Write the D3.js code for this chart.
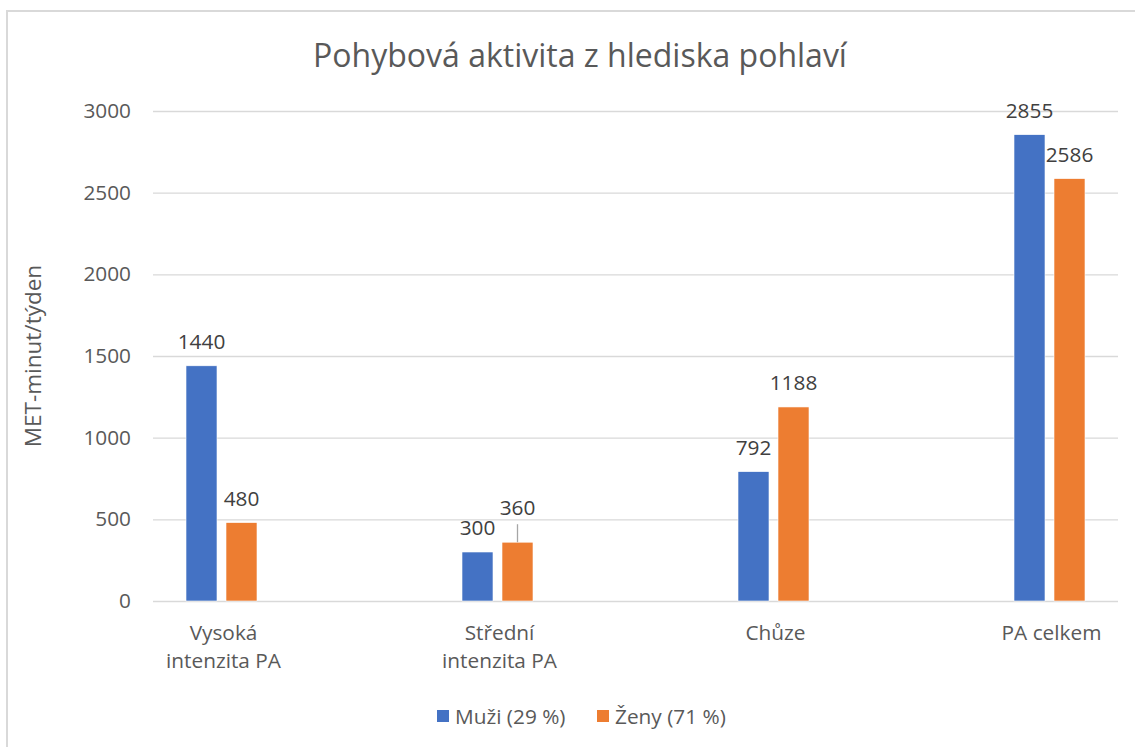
<!DOCTYPE html>
<html>
<head>
<meta charset="utf-8">
<script src="https://cdn.jsdelivr.net/npm/d3@7"></script>
<style>
  html, body { margin: 0; padding: 0; background: #fff; }
  svg { display: block; font-family: "Open Sans", sans-serif; }
</style>
</head>
<body>
<svg id="chart" width="1135" height="747"></svg>
<script>
const title = "Pohybová aktivita z hlediska pohlaví";
const yAxisTitle = "MET-minut/týden";
const categories = [["Vysoká", "intenzita PA"], ["Střední", "intenzita PA"], ["Chůze"], ["PA celkem"]];
const seriesNames = ["Muži (29 %)", "Ženy (71 %)"];
const muzi = [1440, 300, 792, 2855];
const zeny = [480, 360, 1188, 2586];
const yTicks = [0, 500, 1000, 1500, 2000, 2500, 3000];
const colors = ["#4472C4", "#ED7D31"];

const svg = d3.select("#chart");
const textColor = "#595959";
const fs = 20.8;

// outer chart border
svg.append("rect").attr("x", 7).attr("y", 11).attr("width", 1140).attr("height", 760)
  .attr("fill", "#fff").attr("stroke", "#D9D9D9").attr("stroke-width", 2);

const plotLeft = 153, plotRight = 1118, plotTop = 111, plotBottom = 601;
const catKeys = categories.map(c => c.join(" "));
const x0 = d3.scaleBand().domain(catKeys).range([83.5, 1187.5]);
const x1 = d3.scaleBand().domain(seriesNames).range([-35.5, 35.5]).paddingInner(0.225);
const y = d3.scaleLinear().domain([0, 3000]).range([plotBottom, plotTop]);

// title
svg.append("text").attr("x", 580).attr("y", 67).attr("text-anchor", "middle")
  .attr("font-size", 32).attr("fill", textColor).text(title);

// y axis with gridlines
const yAxis = d3.axisLeft(y).tickValues(yTicks).tickSize(-(plotRight - plotLeft)).tickPadding(22).tickFormat(d3.format("d"));
const gy = svg.append("g").attr("transform", `translate(${plotLeft},0)`).call(yAxis);
gy.select(".domain").remove();
gy.selectAll(".tick line").attr("stroke", "#D9D9D9").attr("stroke-width", 1.3);
gy.selectAll(".tick text").attr("font-size", fs).attr("fill", textColor)
  .attr("font-family", "'Open Sans', sans-serif");

// y axis title
svg.append("text").attr("transform", `translate(41,356) rotate(-90)`).attr("text-anchor", "middle")
  .attr("font-size", 22.5).attr("fill", textColor).text(yAxisTitle);

// bars
const data = catKeys.map((k, i) => ({ key: k, values: [muzi[i], zeny[i]] }));
const groups = svg.append("g").selectAll("g").data(data).join("g")
  .attr("transform", d => `translate(${x0(d.key) + x0.bandwidth() / 2},0)`);

groups.selectAll("rect").data(d => d.values.map((v, j) => ({ v, j, s: seriesNames[j] }))).join("rect")
  .attr("x", d => x1(d.s)).attr("width", x1.bandwidth())
  .attr("y", d => y(d.v)).attr("height", d => y(0) - y(d.v))
  .attr("fill", d => colors[d.j]).attr("stroke", "#fff").attr("stroke-width", 0.6);

// data labels (Ženy in "Střední" lifted with a leader line)
groups.each(function(d, i) {
  const g = d3.select(this);
  d.values.forEach((v, j) => {
    const cx = x1(seriesNames[j]) + x1.bandwidth() / 2;
    let ly = y(v) - 17;
    if (i === 1 && j === 1) {
      ly = y(v) - 27;
      g.append("line").attr("x1", cx).attr("x2", cx).attr("y1", ly + 9).attr("y2", y(v))
        .attr("stroke", "#A6A6A6").attr("stroke-width", 1.3);
    }
    g.append("text").attr("x", cx).attr("y", ly).attr("text-anchor", "middle")
      .attr("font-size", fs).attr("fill", "#404040").text(v);
  });
});

// x category labels
groups.append("text").attr("text-anchor", "middle").attr("font-size", fs).attr("fill", textColor)
  .attr("transform", "translate(2,0)")
  .selectAll("tspan").data((d, i) => categories[i]).join("tspan")
  .attr("x", 0).attr("y", (t, k) => 640 + k * 28).text(t => t);

// legend
const legendItems = [{ name: seriesNames[0], x: 437 }, { name: seriesNames[1], x: 597 }];
const lg = svg.append("g").selectAll("g").data(legendItems).join("g")
  .attr("transform", d => `translate(${d.x},710)`);
lg.append("rect").attr("width", 12).attr("height", 12).attr("fill", (d, i) => colors[i]);
lg.append("text").attr("x", 18).attr("y", 13.5).attr("font-size", fs).attr("fill", textColor).text(d => d.name);
</script>
</body>
</html>
